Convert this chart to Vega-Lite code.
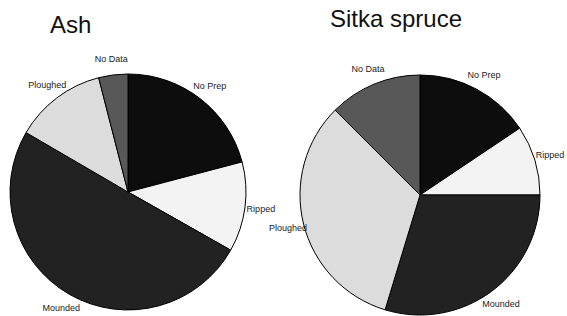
{
  "$schema": "https://vega.github.io/schema/vega-lite/v6.json",
  "background": "white",
  "padding": {"left": 0, "top": 8, "right": 0, "bottom": 0},
  "spacing": 20,
  "bounds": "flush",
  "config": {
    "view": {"stroke": null},
    "title": {"font": "Liberation Sans", "fontSize": 24, "fontWeight": "normal", "color": "#111111", "anchor": "start", "frame": "group", "baseline": "alphabetic"},
    "text": {"font": "Liberation Sans"}
  },
  "datasets": {
    "ash": [
      {"k": 1, "prep": "No Prep", "pct": 20.9},
      {"k": 2, "prep": "Ripped", "pct": 12.3},
      {"k": 3, "prep": "Mounded", "pct": 50.2},
      {"k": 4, "prep": "Ploughed", "pct": 12.6},
      {"k": 5, "prep": "No Data", "pct": 4.0}
    ],
    "sitka": [
      {"k": 1, "prep": "No Prep", "pct": 15.6},
      {"k": 2, "prep": "Ripped", "pct": 9.4},
      {"k": 3, "prep": "Mounded", "pct": 29.7},
      {"k": 4, "prep": "Ploughed", "pct": 32.8},
      {"k": 5, "prep": "No Data", "pct": 12.5}
    ]
  },
  "hconcat": [
    {
      "width": 256,
      "height": 240,
      "title": {"text": "Ash", "dx": 50, "offset": 17},
      "data": {"name": "ash"},
      "encoding": {
        "theta": {"field": "pct", "type": "quantitative", "stack": true},
        "order": {"field": "k", "type": "quantitative"}
      },
      "layer": [
        {
          "mark": {"type": "arc", "radius": 118, "stroke": "#000000", "strokeWidth": 1},
          "encoding": {
            "color": {"field": "prep", "type": "nominal", "legend": null,
              "scale": {"domain": ["No Prep", "Ripped", "Mounded", "Ploughed", "No Data"],
                        "range": ["#0d0d0d", "#f3f3f3", "#222222", "#dcdcdc", "#585858"]}}
          }
        },
        {
          "mark": {"type": "text", "radius": 134, "fontSize": 9, "color": "#222222"},
          "encoding": {"text": {"field": "prep", "type": "nominal"}}
        }
      ]
    },
    {
      "width": 288,
      "height": 246,
      "title": {"text": "Sitka spruce", "dx": 54, "offset": 33},
      "data": {"name": "sitka"},
      "encoding": {
        "theta": {"field": "pct", "type": "quantitative", "stack": true},
        "order": {"field": "k", "type": "quantitative"}
      },
      "layer": [
        {
          "mark": {"type": "arc", "radius": 120, "stroke": "#000000", "strokeWidth": 1},
          "encoding": {
            "color": {"field": "prep", "type": "nominal", "legend": null,
              "scale": {"domain": ["No Prep", "Ripped", "Mounded", "Ploughed", "No Data"],
                        "range": ["#0d0d0d", "#f3f3f3", "#222222", "#dcdcdc", "#585858"]}}
          }
        },
        {
          "mark": {"type": "text", "radius": 136, "fontSize": 9, "color": "#222222"},
          "encoding": {"text": {"field": "prep", "type": "nominal"}}
        }
      ]
    }
  ]
}
